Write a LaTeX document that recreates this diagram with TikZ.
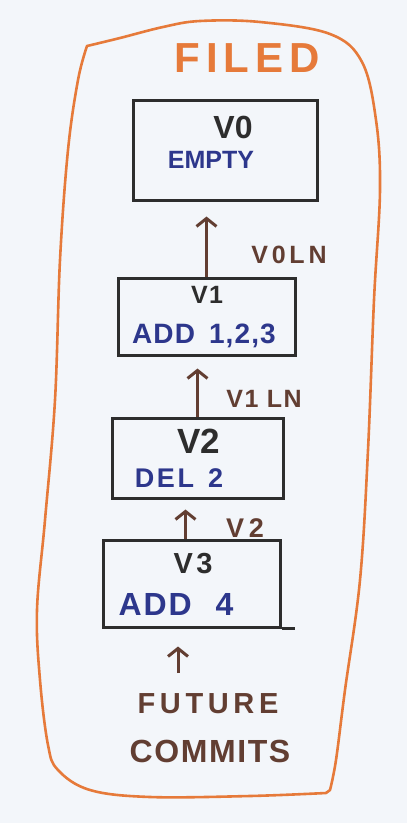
\documentclass[tikz,border=0pt]{standalone}
\usepackage{fontspec}
\setmainfont{Liberation Sans}
\usetikzlibrary{arrows.meta}
\definecolor{paper}{RGB}{243,246,250}
\definecolor{orng}{RGB}{230,122,58}
\definecolor{ink}{RGB}{45,45,45}
\definecolor{blu}{RGB}{45,55,140}
\definecolor{brwn}{RGB}{98,62,50}
\newcommand{\fs}[2]{\fontsize{#1}{#1}\selectfont\bfseries\addfontfeature{LetterSpace=#2}}
\tikzset{
  box/.style={draw=ink, line width=3pt, inner sep=0pt},
  txt/.style={inner sep=0pt, anchor=base},
  arr/.style={draw=brwn, line width=3pt, -{Straight Barb[length=8pt,width=20pt]}},
  outline/.style={draw=orng, line width=2.6pt, line join=round}
}
\begin{document}
\begin{tikzpicture}[x=1pt,y=-1pt]
\useasboundingbox[fill=paper] (0,0) rectangle (407,823);
% orange frame
\draw[outline] plot[smooth, tension=0.6] coordinates {(87,46) (120,38) (163,27) (200,21) (260,22) (330,34) (362,62) (376,120) (380,190) (374,300) (368,450) (360,580) (345,690) (336,760) (330,790)}
  -- plot[smooth, tension=0.6] coordinates {(326,793) (250,796) (150,797) (90,790) (58,770) (48,745) (40,680) (37,610) (45,520) (55,400) (60,260) (68,150) (78,80) (87,46)} -- cycle;
\node[txt, text=orng, font=\fs{42}{14}] (title) at (247,72) {FILED};
% boxes
\node[box, minimum width=184pt, minimum height=100pt] (v0) at (225,150) {};
\node[box, minimum width=177pt, minimum height=77pt] (v1) at (206.5,316.5) {};
\node[box, minimum width=171pt, minimum height=80pt] (v2) at (197.5,458) {};
\node[box, minimum width=177pt, minimum height=87pt] (v3) at (191.5,583.5) {};
\draw[draw=ink, line width=3pt] (v3.south east) -- ++(13,0);
% box texts
\node[txt, text=ink, font=\fs{32}{0}] (v0t) at (233,138) {V0};
\node[txt, text=blu, font=\fs{25}{0}] (v0d) at (211,168) {EMPTY};
\node[txt, text=ink, font=\fs{25}{5}] (v1t) at (207,303) {V1};
\node[txt, text=blu, font=\fs{28}{4}] (v1d) at (204,343) {ADD\hspace{14pt}1,2,3};
\node[txt, text=ink, font=\fs{35}{0}] (v2t) at (199,453) {V2};
\node[txt, text=blu, font=\fs{27}{10}] (v2d) at (179,487) {DEL\hspace{14pt}2};
\node[txt, text=ink, font=\fs{29}{12}] (v3t) at (193,573) {V3};
\node[txt, text=blu, font=\fs{32}{6}] (v3d) at (176,615) {ADD\hspace{24pt}4};
% future
\node[txt, text=brwn, font=\fs{29}{16}] (fut) at (208,713) {FUTURE};
\node[txt, text=brwn, font=\fs{32}{5}] (com) at (210,762) {COMMITS};
\coordinate (fstart) at (178,673);
% arrows
\draw[arr, shorten >=15pt] (v1.north) -- (v1.north |- v0.south);
\draw[arr, shorten >=12pt] (v2.north) -- (v2.north |- v1.south);
\draw[arr, shorten >=10pt] ([xshift=-6pt]v3.north) -- ([xshift=-6pt]v3.north |- v2.south);
\draw[arr, shorten >=18pt] (fstart) -- (fstart |- v3.south);
% arrow labels
\node[txt, text=brwn, font=\fs{25}{15}] (l0) at (289,263) {V0LN};
\node[txt, text=brwn, font=\fs{25}{6}] (l1) at (264,407) {V1 LN};
\node[txt, text=brwn, font=\fs{27}{18}] (l2) at (245,537) {V2};
\end{tikzpicture}
\end{document}
